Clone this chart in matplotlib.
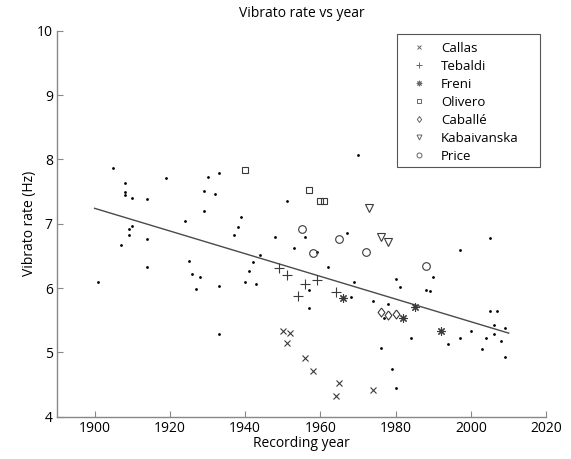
import matplotlib
matplotlib.use("Agg")
import matplotlib.pyplot as plt
from matplotlib.lines import Line2D
from matplotlib.patches import Rectangle

plt.rcParams['font.family'] = ['Open Sans', 'DejaVu Sans']

# other recordings (small dots)
dot_year = [1901, 1905, 1907, 1908, 1908, 1908, 1909, 1909, 1910, 1910, 1914, 1914,
            1914, 1919, 1924, 1925, 1926, 1927, 1928, 1929, 1929, 1930, 1932, 1933,
            1933, 1933, 1937, 1938, 1939, 1940, 1941, 1942, 1943, 1944, 1948, 1951,
            1953, 1956, 1957, 1957, 1959, 1962, 1967, 1968, 1969, 1970, 1974, 1976,
            1977, 1978, 1979, 1980, 1980, 1981, 1984, 1988, 1989, 1990, 1994, 1997,
            1997, 2000, 2003, 2004, 2005, 2005, 2006, 2006, 2007, 2008, 2009, 2009]
dot_rate = [6.10, 7.86, 6.67, 7.64, 7.49, 7.44, 6.92, 6.83, 7.40, 6.96, 7.38, 6.76,
            6.33, 7.71, 7.05, 6.42, 6.22, 5.98, 6.17, 7.51, 7.20, 7.72, 7.46, 7.79,
            6.04, 5.29, 6.82, 6.95, 7.10, 6.10, 6.26, 6.40, 6.06, 6.52, 6.80, 7.36,
            6.62, 6.80, 5.97, 5.69, 6.56, 6.33, 6.86, 5.86, 6.10, 8.07, 5.80, 5.07,
            5.53, 5.75, 4.74, 6.14, 4.45, 6.01, 5.22, 5.97, 5.95, 6.18, 5.13, 6.59,
            5.23, 5.34, 5.05, 5.22, 6.78, 5.65, 5.42, 5.28, 5.65, 5.17, 5.38, 4.93]

callas_year = [1950, 1951, 1952, 1956, 1958, 1964, 1965, 1974]
callas_rate = [5.33, 5.14, 5.30, 4.92, 4.71, 4.33, 4.52, 4.42]
tebaldi_year = [1949, 1951, 1954, 1956, 1959, 1964]
tebaldi_rate = [6.31, 6.20, 5.87, 6.06, 6.13, 5.94]
freni_year = [1966, 1982, 1985, 1992]
freni_rate = [5.84, 5.54, 5.70, 5.33]
olivero_year = [1940, 1957, 1960, 1961]
olivero_rate = [7.83, 7.52, 7.35, 7.35]
caballe_year = [1976, 1978, 1980]
caballe_rate = [5.63, 5.58, 5.60]
kabai_year = [1973, 1976, 1978]
kabai_rate = [7.25, 6.79, 6.71]
price_year = [1955, 1958, 1965, 1972, 1988]
price_rate = [6.92, 6.54, 6.77, 6.56, 6.35]

# regression line end points
fit_year = [1900, 2010]
fit_rate = [7.24, 5.30]

diamond = [(0, 1), (0.75, 0), (0, -1), (-0.75, 0), (0, 1)]
singers = [
    ('Callas', callas_year, callas_rate, 'x', 4.5),
    ('Tebaldi', tebaldi_year, tebaldi_rate, '+', 6.5),
    ('Freni', freni_year, freni_rate, (8, 2, 0), 6),
    ('Olivero', olivero_year, olivero_rate, 's', 4.2),
    ('Caballé', caballe_year, caballe_rate, diamond, 6.5),
    ('Kabaivanska', kabai_year, kabai_rate, 'v', 5.5),
    ('Price', price_year, price_rate, 'o', 5.5),
]

fig = plt.figure(figsize=(5.71, 4.59), dpi=100)
ax = fig.add_axes([0.0998, 0.092, 0.857, 0.841])

mc = '#3a3a3a'
ax.plot(dot_year, dot_rate, 'o', color='black', markersize=2.0, markeredgewidth=0, zorder=3)
ax.plot(fit_year, fit_rate, '-', color='#4a4a4a', linewidth=1.0, zorder=2)
for name, yr, rt, mk, ms in singers:
    ax.plot(yr, rt, linestyle='none', marker=mk, markersize=ms,
            markerfacecolor='none', markeredgecolor=mc, markeredgewidth=0.8, zorder=4)

# legend entries (frame drawn separately, MATLAB style)
handles = [Line2D([], [], linestyle='none', marker=mk, markersize=ms * 0.65,
                  markerfacecolor='none', markeredgecolor='#666666', markeredgewidth=0.7)
           for name, yr, rt, mk, ms in singers]
leg = ax.legend(handles, [s[0] for s in singers], loc='upper left',
                bbox_to_anchor=(408.7 / 571, 1 - 42.0 / 459), bbox_transform=fig.transFigure,
                fontsize=9.5, frameon=False, handlelength=1.6, handletextpad=0.83,
                labelspacing=0.38, borderpad=0, borderaxespad=0)
fig.patches.append(Rectangle((397 / 571, 1 - 166.7 / 459), 143 / 571, 132.4 / 459,
                             transform=fig.transFigure, fill=False,
                             edgecolor='#555555', linewidth=0.8))

ax.set_xlim(1890, 2020)
ax.set_ylim(4, 10)
ax.set_xticks([1900, 1920, 1940, 1960, 1980, 2000, 2020])
ax.set_yticks([4, 5, 6, 7, 8, 9, 10])
ax.spines['top'].set_visible(False)
ax.spines['right'].set_visible(False)
for s in ['left', 'bottom']:
    ax.spines[s].set_color('#888888')
    ax.spines[s].set_linewidth(1.0)
ax.tick_params(direction='in', length=4, color='#888888', labelsize=10, pad=3)

ax.set_title('Vibrato rate vs year', fontsize=10, pad=10)
ax.set_xlabel('Recording year', fontsize=10, labelpad=0)
ax.set_ylabel('Vibrato rate (Hz)', fontsize=10, labelpad=0)

fig.savefig('out.png', dpi=100)
